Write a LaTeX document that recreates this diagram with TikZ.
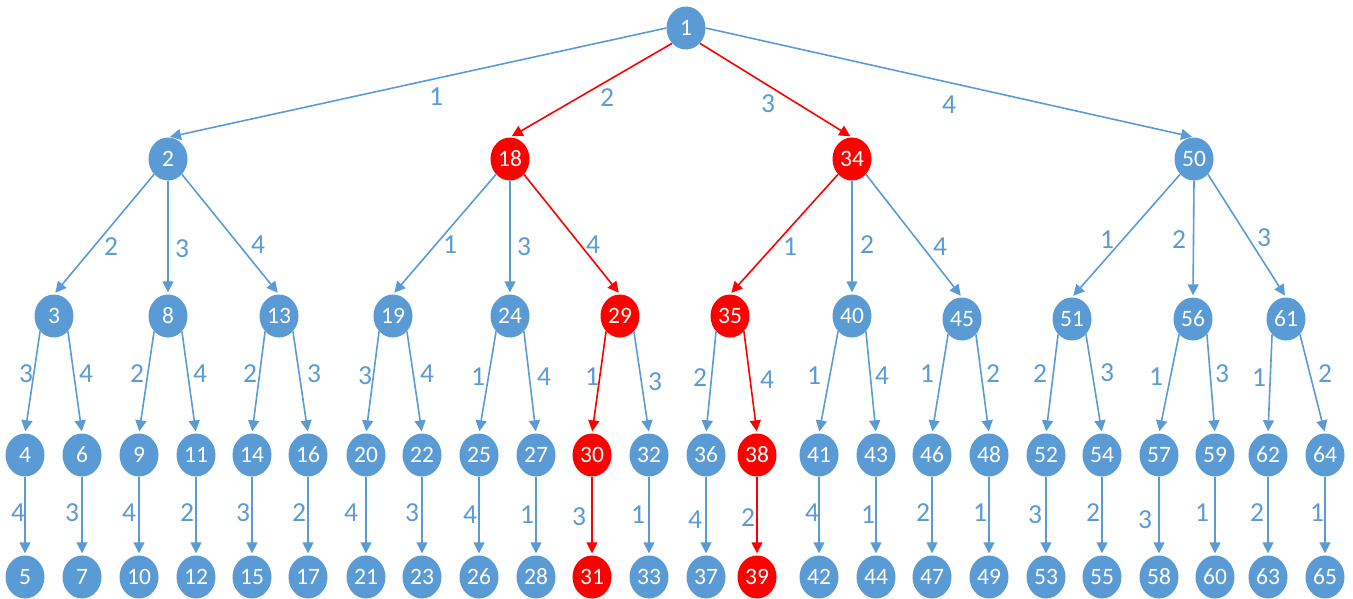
\documentclass[tikz,border=0pt]{standalone}
\usepackage{fontspec}
\setmainfont{Carlito}
\usetikzlibrary{shapes.geometric,arrows.meta}
\definecolor{nodeblue}{HTML}{5B9BD5}
\definecolor{hotred}{HTML}{FF0000}
\tikzset{
  vtx/.style={ellipse, fill=nodeblue, text=white, minimum width=39pt, minimum height=43pt,
              inner sep=0pt, font=\fontsize{23.5}{23.5}\selectfont},
  hot/.style={vtx, fill=hotred},
  link/.style={draw=nodeblue, line width=1.6pt, shorten >=2pt,
               -{Triangle[length=11pt,width=11pt]}},
  hotlink/.style={link, draw=hotred},
  lbl/.style={text=nodeblue, inner sep=0pt, font=\fontsize{27.5}{27.5}\selectfont}
}
\begin{document}
\begin{tikzpicture}[x=1pt,y=-1pt]
\useasboundingbox (0,0) rectangle (1353,598);

% ---- vertices ----
\node[vtx] (n1) at (686,28) {1};
\node[vtx] (n2)  at (168,159) {2};
\node[hot] (n18) at (510,159) {18};
\node[hot] (n34) at (852,159) {34};
\node[vtx] (n50) at (1194,159) {50};

\node[vtx] (n3)  at (54,316)  {3};
\node[vtx] (n8)  at (168,316) {8};
\node[vtx] (n13) at (279,316) {13};
\node[vtx] (n19) at (393,316) {19};
\node[vtx] (n24) at (510,316) {24};
\node[hot] (n29) at (620,316) {29};
\node[hot] (n35) at (730,316) {35};
\node[vtx] (n40) at (852,316) {40};
\node[vtx] (n45) at (962,319) {45};
\node[vtx] (n51) at (1072,319) {51};
\node[vtx] (n56) at (1193,319) {56};
\node[vtx] (n61) at (1286,319) {61};

\foreach \n/\x/\s in {4/25/vtx,6/82/vtx,9/139/vtx,11/196/vtx,14/252/vtx,16/308/vtx,
  20/366/vtx,22/422/vtx,25/479/vtx,27/536/vtx,30/592/hot,32/649/vtx,36/706/vtx,
  38/757/hot,41/819/vtx,43/876/vtx,46/932/vtx,48/989/vtx,52/1046/vtx,54/1102/vtx,
  57/1159/vtx,59/1215/vtx,62/1268/vtx,64/1325/vtx}
  \node[\s] (n\n) at (\x,455) {\n};

\foreach \n/\x/\s in {5/25/vtx,7/82/vtx,10/139/vtx,12/196/vtx,15/252/vtx,17/308/vtx,
  21/366/vtx,23/422/vtx,26/479/vtx,28/536/vtx,31/592/hot,33/649/vtx,37/706/vtx,
  39/757/hot,42/819/vtx,44/876/vtx,47/932/vtx,49/989/vtx,53/1046/vtx,55/1102/vtx,
  58/1159/vtx,60/1215/vtx,63/1268/vtx,65/1325/vtx}
  \node[\s] (n\n) at (\x,577) {\n};

% ---- connectors: root level ----
\draw[link]    (n1.west) -- (n2.north);
\draw[hotlink] (n1.south west) -- (n18.north);
\draw[hotlink] (n1.south east) -- (n34.north);
\draw[link]    (n1.east) -- (n50.north);

% ---- connectors: second level ----
\draw[link] (n2.south west) -- (n3.north);
\draw[link] (n2.south) -- (n8.north);
\draw[link] (n2.south east) -- (n13.north);
\draw[link] (n18.south west) -- (n19.north);
\draw[link] (n18.south) -- (n24.north);
\draw[hotlink] (n18.south east) -- (n29.north);
\draw[hotlink] (n34.south west) -- (n35.north);
\draw[link] (n34.south) -- (n40.north);
\draw[link] (n34.south east) -- (n45.north);
\draw[link] (n50.south west) -- (n51.north);
\draw[link] (n50.south) -- (n56.north);
\draw[link] (n50.south east) -- (n61.north);

% ---- connectors: third level ----
\draw[link] (n3.south west) -- (n4.north);
\draw[link] (n3.south east) -- (n6.north);
\draw[link] (n8.south west) -- (n9.north);
\draw[link] (n8.south east) -- (n11.north);
\draw[link] (n13.south west) -- (n14.north);
\draw[link] (n13.south east) -- (n16.north);
\draw[link] (n19.south west) -- (n20.north);
\draw[link] (n19.south east) -- (n22.north);
\draw[link] (n24.south west) -- (n25.north);
\draw[link] (n24.south east) -- (n27.north);
\draw[hotlink] (n29.south west) -- (n30.north);
\draw[link] (n29.south east) -- (n32.north);
\draw[link] (n35.south west) -- (n36.north);
\draw[hotlink] (n35.south east) -- (n38.north);
\draw[link] (n40.south west) -- (n41.north);
\draw[link] (n40.south east) -- (n43.north);
\draw[link] (n45.south west) -- (n46.north);
\draw[link] (n45.south east) -- (n48.north);
\draw[link] (n51.south west) -- (n52.north);
\draw[link] (n51.south east) -- (n54.north);
\draw[link] (n56.south west) -- (n57.north);
\draw[link] (n56.south east) -- (n59.north);
\draw[link] (n61.south west) -- (n62.north);
\draw[link] (n61.south east) -- (n64.north);

% ---- connectors: leaf level ----
\foreach \a/\b in {4/5,6/7,9/10,11/12,14/15,16/17,20/21,22/23,25/26,27/28,32/33,
  36/37,41/42,43/44,46/47,48/49,52/53,54/55,57/58,59/60,62/63,64/65}
  \draw[link] (n\a.south) -- (n\b.north);
\draw[hotlink] (n30.south) -- (n31.north);
\draw[hotlink] (n38.south) -- (n39.north);

% ---- edge weights ----
\node[lbl] (w1-2)  at (436,97)  {1};
\node[lbl] (w1-18) at (607,98)  {2};
\node[lbl] (w1-34) at (768,104) {3};
\node[lbl] (w1-50) at (949,105) {4};

\node[lbl] (w2-3)   at (111,247)  {2};
\node[lbl] (w2-8)   at (182,249)  {3};
\node[lbl] (w2-13)  at (258,245)  {4};
\node[lbl] (w18-19) at (450,245)  {1};
\node[lbl] (w18-24) at (524,247)  {3};
\node[lbl] (w18-29) at (593,245)  {4};
\node[lbl] (w34-35) at (790,247)  {1};
\node[lbl] (w34-40) at (867,245)  {2};
\node[lbl] (w34-45) at (940,247)  {4};
\node[lbl] (w50-51) at (1107,240) {1};
\node[lbl] (w50-56) at (1179,240) {2};
\node[lbl] (w50-61) at (1264,238) {3};

\node[lbl] (w3-4)   at (26,374)   {3};
\node[lbl] (w3-6)   at (86,374)   {4};
\node[lbl] (w8-9)   at (137,374)  {2};
\node[lbl] (w8-11)  at (200,374)  {4};
\node[lbl] (w13-14) at (250,374)  {2};
\node[lbl] (w13-16) at (314,374)  {3};
\node[lbl] (w19-20) at (365,376)  {3};
\node[lbl] (w19-22) at (427,374)  {4};
\node[lbl] (w24-25) at (478,377)  {1};
\node[lbl] (w24-27) at (544,377)  {4};
\node[lbl] (w29-30) at (592,377)  {1};
\node[lbl] (w29-32) at (655,382)  {3};
\node[lbl] (w35-36) at (700,378)  {2};
\node[lbl] (w35-38) at (767,380)  {4};
\node[lbl] (w40-41) at (814,376)  {1};
\node[lbl] (w40-43) at (882,376)  {4};
\node[lbl] (w45-46) at (927,374)  {1};
\node[lbl] (w45-48) at (993,374)  {2};
\node[lbl] (w51-52) at (1040,374) {2};
\node[lbl] (w51-54) at (1107,373) {3};
\node[lbl] (w56-57) at (1156,377) {1};
\node[lbl] (w56-59) at (1222,374) {3};
\node[lbl] (w61-62) at (1259,378) {1};
\node[lbl] (w61-64) at (1325,374) {2};

\foreach \a/\x/\w/\y in {4/18/4/513,6/72/3/513,9/129/4/513,11/187/2/513,14/243/3/513,
  16/299/2/513,20/351/4/513,22/412/3/513,25/470/4/515,27/527/1/515,30/579/3/517,
  32/638/1/515,36/695/4/520,38/748/2/518,41/812/4/513,43/868/1/515,46/923/2/513,
  48/980/1/513,52/1035/3/515,54/1093/2/513,57/1145/3/520,59/1202/1/513,
  62/1257/2/513,64/1317/1/513}
  \node[lbl] (w\a-leaf) at (\x,\y) {\w};
\end{tikzpicture}
\end{document}
